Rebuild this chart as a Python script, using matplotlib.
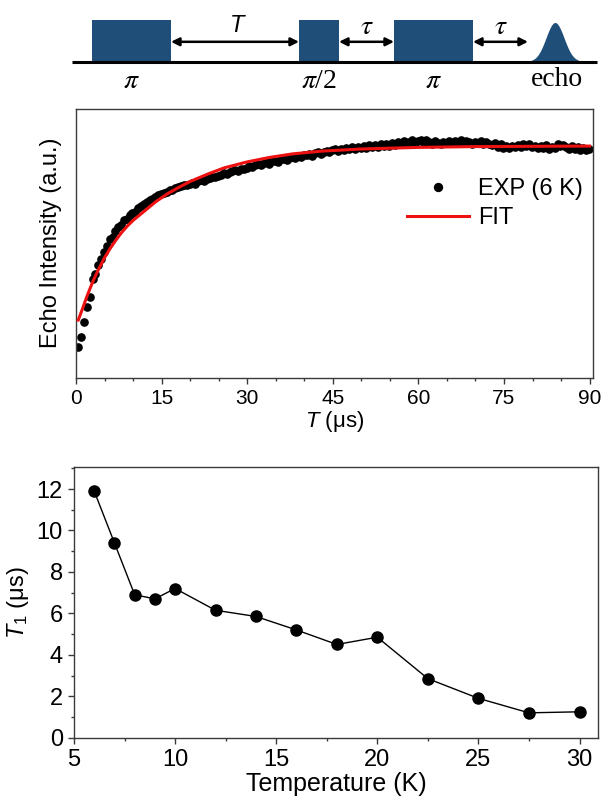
import numpy as np
import matplotlib
matplotlib.use("Agg")
from matplotlib import pyplot as plt
from matplotlib.ticker import MultipleLocator

plt.rcParams['font.family'] = ['Liberation Sans', 'DejaVu Sans']
plt.rcParams['mathtext.fontset'] = 'custom'
plt.rcParams['mathtext.rm'] = 'Liberation Sans'
plt.rcParams['mathtext.it'] = 'Liberation Sans:italic'

# --- pulse sequence sketch (pixel units of the top strip) ---
pulse_left = [92, 299, 394]
pulse_right = [171, 339, 473]
pulse_top = [20, 20, 19.5]
pulse_names = [r'$\pi$', r'$\pi$/2', r'$\pi$']
echo_center = 555
echo_width = 9
arrow_spans = [(171, 299), (339, 394), (473, 528)]
arrow_names = ['T', r'$\tau$', r'$\tau$']

# --- inversion recovery trace at 6 K (normalised intensity) ---
t_first = 0.4
t_step = 0.5
echo_exp = [
    0.113, 0.150, 0.205, 0.262, 0.300, 0.368, 0.385, 0.418, 0.440, 0.466,
    0.490, 0.515, 0.522, 0.545, 0.560, 0.568, 0.585, 0.592, 0.605, 0.612,
    0.618, 0.630, 0.638, 0.645, 0.652, 0.660, 0.664, 0.672, 0.678, 0.684,
    0.688, 0.690, 0.697, 0.700, 0.706, 0.708, 0.712, 0.716, 0.718, 0.722,
    0.725, 0.722, 0.730, 0.734, 0.733, 0.740, 0.742, 0.748, 0.745, 0.752,
    0.756, 0.760, 0.758, 0.765, 0.768, 0.772, 0.770, 0.778, 0.776, 0.782,
    0.786, 0.783, 0.790, 0.794, 0.792, 0.798, 0.802, 0.797, 0.805, 0.808,
    0.804, 0.812, 0.815, 0.811, 0.818, 0.822, 0.817, 0.826, 0.823, 0.830,
    0.827, 0.833, 0.826, 0.835, 0.838, 0.832, 0.840, 0.845, 0.838, 0.846,
    0.850, 0.842, 0.852, 0.848, 0.855, 0.850, 0.858, 0.852, 0.860, 0.854,
    0.862, 0.856, 0.865, 0.858, 0.866, 0.860, 0.868, 0.862, 0.870, 0.864,
    0.872, 0.866, 0.876, 0.868, 0.880, 0.870, 0.878, 0.884, 0.872, 0.882,
    0.886, 0.874, 0.884, 0.878, 0.870, 0.880, 0.875, 0.868, 0.878, 0.872,
    0.882, 0.874, 0.880, 0.876, 0.884, 0.872, 0.880, 0.876, 0.870, 0.878,
    0.872, 0.880, 0.868, 0.876, 0.870, 0.865, 0.874, 0.860, 0.868, 0.856,
    0.862, 0.854, 0.864, 0.858, 0.866, 0.860, 0.870, 0.862, 0.868, 0.858,
    0.864, 0.854, 0.862, 0.856, 0.866, 0.852, 0.860, 0.856, 0.868, 0.862,
    0.866, 0.858, 0.852, 0.862, 0.850, 0.858, 0.848, 0.856, 0.846, 0.852,
]
t_exp = t_first + t_step * np.arange(len(echo_exp))

t_fit = [0.4, 1, 2, 3, 4, 5, 6, 7, 8, 9, 10, 12, 14, 16, 18, 20, 23, 26, 30,
         34, 38, 43, 50, 60, 70, 80, 90]
echo_fit = [0.214, 0.248, 0.307, 0.360, 0.405, 0.446, 0.481, 0.512, 0.540,
            0.564, 0.585, 0.620, 0.655, 0.684, 0.708, 0.730, 0.757, 0.781,
            0.803, 0.820, 0.833, 0.843, 0.851, 0.857, 0.860, 0.861, 0.862]

# --- T1 versus temperature ---
temps = [6, 7, 8, 9, 10, 12, 14, 16, 18, 20, 22.5, 25, 27.5, 30]
t1_vals = [11.9, 9.4, 6.9, 6.7, 7.2, 6.15, 5.85, 5.2, 4.5, 4.85, 2.85, 1.9,
           1.2, 1.25]

W, H = 603, 800
fig = plt.figure(figsize=(W / 100, H / 100), dpi=100)

spine_col = '#3a3a3a'
pulse_col = '#1f4e79'


def style_axes(ax):
    for s in ax.spines.values():
        s.set_color(spine_col)
        s.set_linewidth(1.0)
    ax.tick_params(which='both', direction='out', color=spine_col,
                   labelsize=15, width=1.0, top=False, right=False)
    ax.tick_params(which='major', length=4.5)
    ax.tick_params(which='minor', length=2.5)


# top strip with the pulse sequence
ax0 = fig.add_axes([0, 1 - 95 / H, 1, 95 / H])
ax0.set_xlim(0, W)
ax0.set_ylim(95, 0)
ax0.set_axis_off()
base_y = 61.5
ax0.plot([72, 597], [base_y, base_y], color='black', lw=2.2,
         solid_capstyle='butt', zorder=3)
for x0, x1, top, name in zip(pulse_left, pulse_right, pulse_top, pulse_names):
    ax0.fill_between([x0, x1], [top, top], [base_y, base_y],
                     color=pulse_col, lw=0)
    ax0.text((x0 + x1) / 2, 82, name, ha='center', va='center', fontsize=20,
             family='Liberation Serif', math_fontfamily='stix')
xs = np.linspace(echo_center - 28, echo_center + 28, 120)
ys = base_y - (base_y - 22.5) * np.exp(-0.5 * ((xs - echo_center) / echo_width) ** 2)
ax0.fill_between(xs, ys, base_y, color=pulse_col, lw=0)
ax0.text(echo_center + 2, 80, 'echo', ha='center', va='center', fontsize=20,
         family='Liberation Serif')
for (a, b), name in zip(arrow_spans, arrow_names):
    ax0.annotate('', xy=(a, 41.8), xytext=(b, 41.8),
                 arrowprops=dict(arrowstyle='<|-|>', color='black', lw=1.8,
                                 mutation_scale=12, shrinkA=0, shrinkB=0))
    if name == 'T':
        ax0.text((a + b) / 2 + 2, 26, name, ha='center', va='center',
                 fontsize=17, style='italic')
    else:
        ax0.text((a + b) / 2, 27, name, ha='center', va='center',
                 fontsize=20, math_fontfamily='stix')

# middle: recovery curve
ax1 = fig.add_axes([76 / W, 1 - 377.5 / H, (593 - 76) / W, (377.5 - 109) / H])
style_axes(ax1)
ax1.plot(t_exp, echo_exp, 'o', color='black', ms=5.2, mec='black',
         label='EXP (6 K)', zorder=2)
ax1.plot(t_fit, echo_fit, '-', color='#ee1111', lw=2.2, label='FIT', zorder=3)
ax1.set_xlim(0, 90.6)
ax1.set_ylim(0, 1)
ax1.xaxis.set_major_locator(MultipleLocator(15))
ax1.xaxis.set_minor_locator(MultipleLocator(5))
ax1.set_yticks([])
ax1.set_xlabel('$T$ (μs)', fontsize=16, labelpad=1)
ax1.set_ylabel('Echo Intensity (a.u.)', fontsize=17, labelpad=10)
ax1.legend(loc='center left', bbox_to_anchor=(0.6, 0.648), frameon=False,
           fontsize=17, handlelength=2.6, handletextpad=0.4,
           labelspacing=0.3, markerscale=1.1)

# bottom: T1 vs temperature
ax2 = fig.add_axes([74 / W, 1 - 737.7 / H, (597.7 - 74) / W, (737.7 - 467.3) / H])
style_axes(ax2)
ax2.plot(temps, t1_vals, '-o', color='black', lw=1.0, ms=8)
ax2.set_xlim(5, 30.9)
ax2.set_ylim(0, 13.05)
ax2.xaxis.set_major_locator(MultipleLocator(5))
ax2.xaxis.set_minor_locator(MultipleLocator(2.5))
ax2.yaxis.set_major_locator(MultipleLocator(2))
ax2.yaxis.set_minor_locator(MultipleLocator(1))
ax2.tick_params(labelsize=17)
ax2.set_xlabel('Temperature (K)', fontsize=18, labelpad=1)
ax2.set_ylabel('$T_1$ (μs)', fontsize=17, labelpad=4)

fig.savefig('out.png', dpi=100)
